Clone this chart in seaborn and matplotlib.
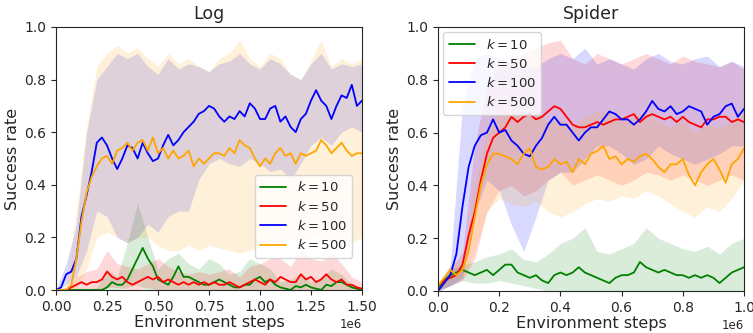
import numpy as np
import pandas as pd
import matplotlib
matplotlib.use("Agg")
import matplotlib.pyplot as plt
import seaborn as sns

# ---------------- data ----------------
labels = ["$k=10$", "$k=50$", "$k=100$", "$k=500$"]
colors = ["green", "red", "blue", "orange"]

# Log panel: steps 0 .. 1.5e6 every 25k (lines), every 50k (bands)
log_steps = np.arange(61) * 25000
log_band_steps = np.arange(31) * 50000

log_k10 = [0, 0, 0, 0, 0, 0, 0, 0, 0, 0.0, 0.01, 0.03, 0.02, 0.02, 0.04, 0.08, 0.12, 0.16, 0.12, 0.09,
           0.04, 0.03, 0.02, 0.05, 0.09, 0.05, 0.05, 0.04, 0.03, 0.02, 0.02, 0.03, 0.04, 0.03, 0.02, 0.01,
           0.01, 0.02, 0.02, 0.04, 0.05, 0.03, 0.04, 0.02, 0.01, 0.005, 0.0, 0.015, 0.01, 0.02, 0.01,
           0.005, 0.0, 0.02, 0.015, 0.03, 0.03, 0.02, 0.01, 0.005, 0.0]
log_k50 = [0, 0, 0, 0.01, 0.02, 0.03, 0.02, 0.03, 0.03, 0.04, 0.07, 0.05, 0.04, 0.05, 0.03, 0.02, 0.03,
           0.04, 0.05, 0.04, 0.05, 0.03, 0.04, 0.03, 0.02, 0.03, 0.02, 0.03, 0.02, 0.03, 0.02, 0.03, 0.02,
           0.02, 0.03, 0.02, 0.01, 0.02, 0.03, 0.04, 0.03, 0.02, 0.04, 0.03, 0.05, 0.04, 0.03, 0.03, 0.06,
           0.04, 0.05, 0.03, 0.04, 0.06, 0.04, 0.03, 0.04, 0.02, 0.02, 0.01, 0.005]
log_k100 = [0.0, 0.01, 0.06, 0.07, 0.12, 0.28, 0.36, 0.45, 0.56, 0.58, 0.55, 0.50, 0.46, 0.50, 0.55, 0.54,
            0.50, 0.56, 0.52, 0.49, 0.50, 0.55, 0.59, 0.55, 0.57, 0.60, 0.62, 0.64, 0.67, 0.68, 0.70, 0.69,
            0.66, 0.64, 0.66, 0.65, 0.68, 0.66, 0.71, 0.69, 0.65, 0.65, 0.69, 0.70, 0.64, 0.66, 0.62, 0.60,
            0.65, 0.67, 0.72, 0.76, 0.72, 0.70, 0.65, 0.70, 0.74, 0.73, 0.78, 0.70, 0.72]
log_k500 = [0, 0, 0, 0.02, 0.12, 0.26, 0.37, 0.43, 0.47, 0.50, 0.51, 0.48, 0.53, 0.54, 0.56, 0.53, 0.56,
            0.57, 0.53, 0.58, 0.52, 0.54, 0.50, 0.53, 0.50, 0.51, 0.53, 0.47, 0.50, 0.48, 0.50, 0.52, 0.52,
            0.51, 0.54, 0.52, 0.57, 0.55, 0.54, 0.50, 0.47, 0.50, 0.48, 0.52, 0.54, 0.51, 0.52, 0.48, 0.52,
            0.51, 0.52, 0.53, 0.57, 0.55, 0.52, 0.54, 0.56, 0.53, 0.51, 0.52, 0.52]

log_k10_lo = [0, 0, 0, 0, 0, 0, 0, 0.01, 0.02, 0.0, 0, 0, 0, 0, 0, 0, 0, 0, 0, 0, 0, 0, 0, 0, 0, 0,
              0, 0, 0, 0, 0]
log_k10_hi = [0, 0, 0, 0, 0.01, 0.08, 0.05, 0.18, 0.33, 0.20, 0.08, 0.12, 0.14, 0.10, 0.08, 0.12, 0.10,
              0.06, 0.07, 0.12, 0.10, 0.08, 0.03, 0.04, 0.06, 0.03, 0.05, 0.08, 0.06, 0.02, 0.01]
log_k50_lo = [0, 0, 0, 0, 0, 0.01, 0.01, 0, 0, 0.01, 0, 0, 0, 0, 0, 0, 0, 0, 0, 0, 0, 0, 0, 0, 0, 0,
              0, 0, 0, 0, 0]
log_k50_hi = [0, 0.01, 0.05, 0.07, 0.08, 0.15, 0.10, 0.09, 0.08, 0.10, 0.12, 0.09, 0.07, 0.06, 0.07,
              0.06, 0.07, 0.08, 0.05, 0.09, 0.10, 0.12, 0.12, 0.09, 0.15, 0.12, 0.11, 0.14, 0.10, 0.05, 0.03]
log_k100_lo = [0, 0.02, 0.05, 0.15, 0.30, 0.28, 0.20, 0.18, 0.20, 0.25, 0.22, 0.28, 0.30, 0.30, 0.42,
               0.48, 0.50, 0.48, 0.47, 0.50, 0.48, 0.45, 0.46, 0.42, 0.48, 0.55, 0.58, 0.55, 0.60, 0.62, 0.60]
log_k100_hi = [0.0, 0.10, 0.25, 0.60, 0.80, 0.85, 0.90, 0.88, 0.90, 0.85, 0.82, 0.88, 0.84, 0.86, 0.85,
               0.83, 0.86, 0.87, 0.90, 0.86, 0.84, 0.88, 0.86, 0.82, 0.80, 0.86, 0.90, 0.84, 0.86, 0.85, 0.86]
log_k500_lo = [0, 0, 0, 0.08, 0.20, 0.22, 0.20, 0.18, 0.20, 0.20, 0.17, 0.15, 0.15, 0.17, 0.15, 0.17,
               0.16, 0.15, 0.14, 0.15, 0.17, 0.16, 0.18, 0.20, 0.18, 0.20, 0.20, 0.18, 0.20, 0.18, 0.20]
log_k500_hi = [0, 0.02, 0.30, 0.62, 0.85, 0.90, 0.93, 0.90, 0.92, 0.88, 0.85, 0.90, 0.86, 0.88, 0.85,
               0.83, 0.88, 0.90, 0.95, 0.88, 0.85, 0.90, 0.88, 0.82, 0.80, 0.87, 0.95, 0.85, 0.88, 0.86, 0.88]

# Spider panel: steps 0 .. 1e6 every 20k (lines), every 40k (bands)
spi_steps = np.arange(51) * 20000
spi_band_steps = np.arange(26) * 40000

spi_k10 = [0.01, 0.04, 0.06, 0.07, 0.08, 0.07, 0.06, 0.07, 0.08, 0.06, 0.08, 0.10, 0.10, 0.07, 0.06,
           0.05, 0.06, 0.04, 0.03, 0.06, 0.07, 0.06, 0.07, 0.09, 0.07, 0.06, 0.05, 0.04, 0.03, 0.05, 0.06,
           0.06, 0.07, 0.11, 0.09, 0.08, 0.07, 0.08, 0.07, 0.06, 0.06, 0.05, 0.06, 0.05, 0.06, 0.05, 0.03,
           0.05, 0.07, 0.08, 0.09]
spi_k50 = [0.02, 0.04, 0.05, 0.06, 0.10, 0.21, 0.30, 0.42, 0.52, 0.58, 0.60, 0.62, 0.66, 0.64, 0.66, 0.67,
           0.65, 0.66, 0.68, 0.70, 0.69, 0.66, 0.63, 0.62, 0.62, 0.63, 0.64, 0.63, 0.64, 0.65, 0.65, 0.66,
           0.67, 0.64, 0.66, 0.67, 0.66, 0.65, 0.66, 0.64, 0.66, 0.64, 0.63, 0.62, 0.65, 0.65, 0.66, 0.66,
           0.64, 0.65, 0.64]
spi_k100 = [0.0, 0.03, 0.06, 0.14, 0.32, 0.47, 0.55, 0.59, 0.60, 0.65, 0.60, 0.61, 0.57, 0.55, 0.52, 0.51,
            0.55, 0.58, 0.63, 0.66, 0.63, 0.63, 0.60, 0.57, 0.60, 0.62, 0.62, 0.65, 0.68, 0.67, 0.65, 0.65,
            0.63, 0.65, 0.68, 0.72, 0.69, 0.68, 0.70, 0.67, 0.68, 0.70, 0.69, 0.68, 0.63, 0.66, 0.67, 0.70,
            0.71, 0.66, 0.69]
spi_k500 = [0.02, 0.05, 0.08, 0.06, 0.08, 0.15, 0.28, 0.40, 0.48, 0.52, 0.52, 0.51, 0.50, 0.48, 0.52,
            0.54, 0.47, 0.46, 0.47, 0.50, 0.48, 0.49, 0.45, 0.50, 0.48, 0.52, 0.53, 0.55, 0.50, 0.51, 0.48,
            0.50, 0.49, 0.51, 0.52, 0.50, 0.47, 0.45, 0.48, 0.48, 0.50, 0.44, 0.40, 0.45, 0.48, 0.50, 0.46,
            0.41, 0.48, 0.50, 0.54]

spi_k10_lo = [0, 0.02, 0.04, 0.03, 0.03, 0.04, 0.03, 0.02, 0.01, 0.0, 0, 0, 0, 0, 0, 0, 0, 0, 0, 0, 0,
              0, 0, 0, 0, 0]
spi_k10_hi = [0.02, 0.08, 0.10, 0.11, 0.13, 0.14, 0.16, 0.12, 0.11, 0.14, 0.18, 0.20, 0.24, 0.15, 0.14,
              0.16, 0.18, 0.24, 0.20, 0.18, 0.16, 0.15, 0.17, 0.14, 0.18, 0.20]
spi_k50_lo = [0, 0.02, 0.04, 0.12, 0.30, 0.38, 0.40, 0.36, 0.38, 0.42, 0.45, 0.40, 0.42, 0.44, 0.42,
              0.40, 0.42, 0.45, 0.44, 0.42, 0.44, 0.42, 0.40, 0.42, 0.44, 0.42]
spi_k50_hi = [0.03, 0.08, 0.15, 0.55, 0.78, 0.85, 0.88, 0.90, 0.92, 0.94, 0.95, 0.88, 0.86, 0.90, 0.88,
              0.86, 0.88, 0.90, 0.88, 0.86, 0.89, 0.87, 0.86, 0.85, 0.87, 0.84]
spi_k100_lo = [0, 0.02, 0.05, 0.30, 0.42, 0.38, 0.25, 0.15, 0.28, 0.42, 0.45, 0.45, 0.50, 0.55, 0.55,
               0.52, 0.48, 0.50, 0.55, 0.52, 0.50, 0.48, 0.50, 0.52, 0.55, 0.55]
spi_k100_hi = [0.0, 0.10, 0.70, 0.88, 0.90, 0.88, 0.86, 0.84, 0.85, 0.88, 0.90, 0.88, 0.92, 0.86, 0.88,
               0.86, 0.84, 0.88, 0.90, 0.87, 0.86, 0.88, 0.89, 0.85, 0.87, 0.85]
spi_k500_lo = [0, 0.04, 0.05, 0.15, 0.30, 0.35, 0.33, 0.32, 0.34, 0.30, 0.28, 0.30, 0.33, 0.35, 0.34,
               0.36, 0.35, 0.38, 0.36, 0.33, 0.30, 0.28, 0.32, 0.30, 0.35, 0.42]
spi_k500_hi = [0.03, 0.10, 0.12, 0.40, 0.60, 0.68, 0.70, 0.66, 0.68, 0.64, 0.65, 0.62, 0.66, 0.68, 0.68,
               0.64, 0.66, 0.68, 0.64, 0.62, 0.65, 0.60, 0.63, 0.62, 0.64, 0.68]

panels = [
    dict(title="Log", steps=log_steps, band_steps=log_band_steps, xmax=1.5e6,
         xticks=[0, 0.25e6, 0.5e6, 0.75e6, 1.0e6, 1.25e6, 1.5e6],
         means=[log_k10, log_k50, log_k100, log_k500],
         los=[log_k10_lo, log_k50_lo, log_k100_lo, log_k500_lo],
         his=[log_k10_hi, log_k50_hi, log_k100_hi, log_k500_hi],
         legend_kw=dict(loc="center right", bbox_to_anchor=(0.99, 0.28))),
    dict(title="Spider", steps=spi_steps, band_steps=spi_band_steps, xmax=1.0e6,
         xticks=[0, 0.2e6, 0.4e6, 0.6e6, 0.8e6, 1.0e6],
         means=[spi_k10, spi_k50, spi_k100, spi_k500],
         los=[spi_k10_lo, spi_k50_lo, spi_k100_lo, spi_k500_lo],
         his=[spi_k10_hi, spi_k50_hi, spi_k100_hi, spi_k500_hi],
         legend_kw=dict(loc="upper left", borderaxespad=0.4)),
]

# ---------------- plot ----------------
sns.set_style("ticks")
plt.rcParams["font.family"] = ["DejaVu Sans"]
plt.rcParams["mathtext.fontset"] = "dejavusans"

fig = plt.figure(figsize=(7.53, 3.33), dpi=100)
axes = [fig.add_axes([56 / 753, 1 - 290 / 333, 306 / 753, 263 / 333]),
        fig.add_axes([438 / 753, 1 - 291 / 333, 306 / 753, 264 / 333])]

for ax, p in zip(axes, panels):
    frames = []
    for lab, m in zip(labels, p["means"]):
        frames.append(pd.DataFrame({"step": p["steps"], "rate": m, "k": lab}))
    df = pd.concat(frames, ignore_index=True)
    for lab, col, lo, hi in zip(labels, colors, p["los"], p["his"]):
        ax.fill_between(p["band_steps"], lo, hi, color=col, alpha=0.15, linewidth=0)
    sns.lineplot(data=df, x="step", y="rate", hue="k", hue_order=labels,
                 palette=dict(zip(labels, colors)), linewidth=1.3, ax=ax)
    ax.set_xlim(0, p["xmax"])
    ax.set_ylim(0, 1.0)
    ax.set_xticks(p["xticks"])
    ax.set_yticks([0, 0.2, 0.4, 0.6, 0.8, 1.0])
    ax.tick_params(labelsize=10, length=3.5, width=0.8)
    ax.xaxis.get_offset_text().set_fontsize(8.5)
    ax.set_title(p["title"], fontsize=12.5)
    ax.set_xlabel("Environment steps", fontsize=11.5, labelpad=1)
    ax.set_ylabel("Success rate", fontsize=11.5, labelpad=3)
    for s in ax.spines.values():
        s.set_visible(True)
        s.set_linewidth(0.8)
    leg = ax.legend(fontsize=9.5, title=None, framealpha=0.8, labelspacing=0.4,
                    handlelength=2.0, **p["legend_kw"])

fig.savefig("out.png", dpi=100)
